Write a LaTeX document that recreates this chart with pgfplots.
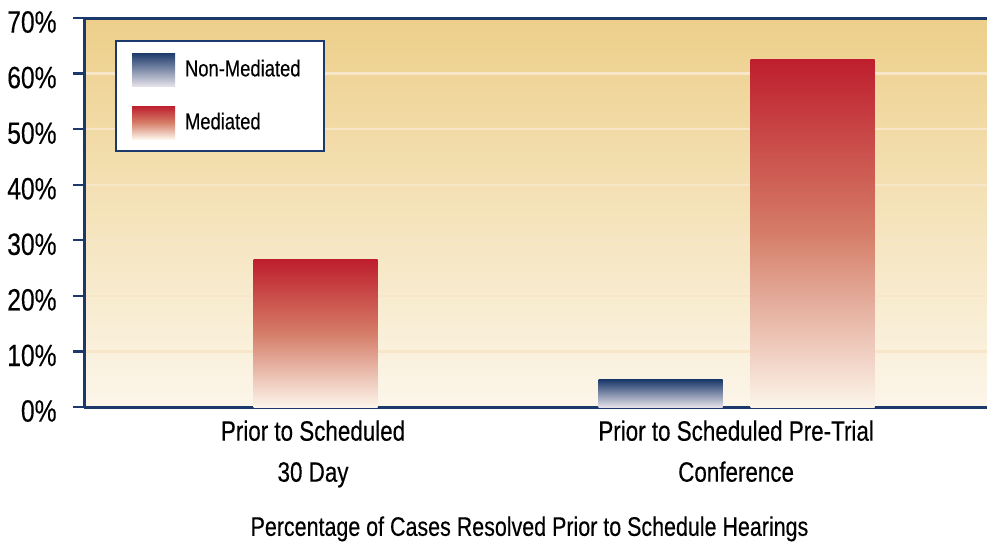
\documentclass[border=0pt]{standalone}
\usepackage{pgfplots}
\pgfplotsset{compat=1.18}
\usepackage{fontspec}
\setmainfont{Liberation Sans}[FakeStretch=0.8, FakeBold=0.3]
\definecolor{navy}{HTML}{1B3A6B}
\definecolor{navylight}{HTML}{E4E0E8}
\definecolor{medred}{HTML}{BE1E2D}
\definecolor{medmid}{HTML}{D57D68}
\definecolor{medlight}{HTML}{FCF4EA}
\definecolor{bgtop}{HTML}{EDCF8A}
\definecolor{bgbot}{HTML}{FCF6EA}
\definecolor{gridc}{HTML}{F7E7C8}
\begin{document}
\begin{tikzpicture}
\begin{axis}[
  name=ax,
  scale only axis,
  width=451.5pt, height=194.5pt,
  xmin=0.4586, xmax=2.593,
  ymin=0, ymax=70,
  axis lines*=left,
  axis line style={navy, line width=1.5pt},
  axis background/.style={top color=bgtop, bottom color=bgbot},
  ytick={0,10,...,70},
  yticklabel={\pgfmathprintnumber{\tick}\%},
  /pgf/number format/assume math mode=true,
  yticklabel style={font=\fontsize{15.4}{18}\selectfont, anchor=east, inner sep=0pt, xshift=-8pt, yshift=-2pt},
  tick align=outside,
  major tick length=5.5pt,
  ytick style={navy, line width=1.2pt},
  xtick={1,2},
  xtick style={draw=none},
  xticklabels={{Prior to Scheduled\\30 Day},{Prior to Scheduled Pre-Trial\\Conference}},
  xticklabel style={font=\fontsize{14}{20.5}\selectfont, align=center, anchor=north, inner sep=0pt, yshift=-1pt},
  xlabel={Percentage of Cases Resolved Prior to Schedule Hearings},
  x label style={at={(rel axis cs:0.5,0)}, anchor=north, yshift=-54.5pt, inner sep=0pt, xshift=-3pt, font=\fontsize{13.4}{20}\selectfont},
  ymajorgrids,
  major grid style={line width=1.2pt, gridc},
  legend style={at={(0,1)}, anchor=north west, xshift=15.5pt, yshift=-11pt,
    draw=navy, line width=1pt, fill=white, inner xsep=8pt, inner ysep=6pt,
    row sep=10pt, column sep=3pt, font=\fontsize{11.5}{13}\selectfont, cells={anchor=west}},
  clip=false,
]
\addplot[ybar, bar width=62pt, bar shift=0pt, draw=none, top color=navy, bottom color=navylight,
  legend image code/.code={\shade[top color=navy, bottom color=navylight, draw=none] (0pt,-8.25pt) rectangle (21.5pt,8.25pt);}]
  coordinates {(1.8215,4.9)};
\addlegendentry{Non-Mediated\hspace*{1.5pt}}
\addplot[ybar, bar width=62pt, bar shift=0pt, draw=none, top color=medred, bottom color=medlight, middle color=medmid,
  legend image code/.code={\shade[top color=medred, bottom color=medlight, middle color=medmid, draw=none] (0pt,-8.25pt) rectangle (21.5pt,8.25pt);}]
  coordinates {(2.181,62.6)};
\addlegendentry{Mediated}
\addplot[ybar, bar width=62pt, bar shift=0pt, draw=none, top color=medred, bottom color=medlight, middle color=medmid, forget plot]
  coordinates {(1.006,26.5)};
\draw[navy, line width=1.5pt] (rel axis cs:0,1) -- (rel axis cs:1,1);
\end{axis}
\pgfresetboundingbox
\path ([xshift=-42pt,yshift=-69pt]ax.south west) rectangle ([yshift=9pt]ax.north east);
\end{tikzpicture}
\end{document}
